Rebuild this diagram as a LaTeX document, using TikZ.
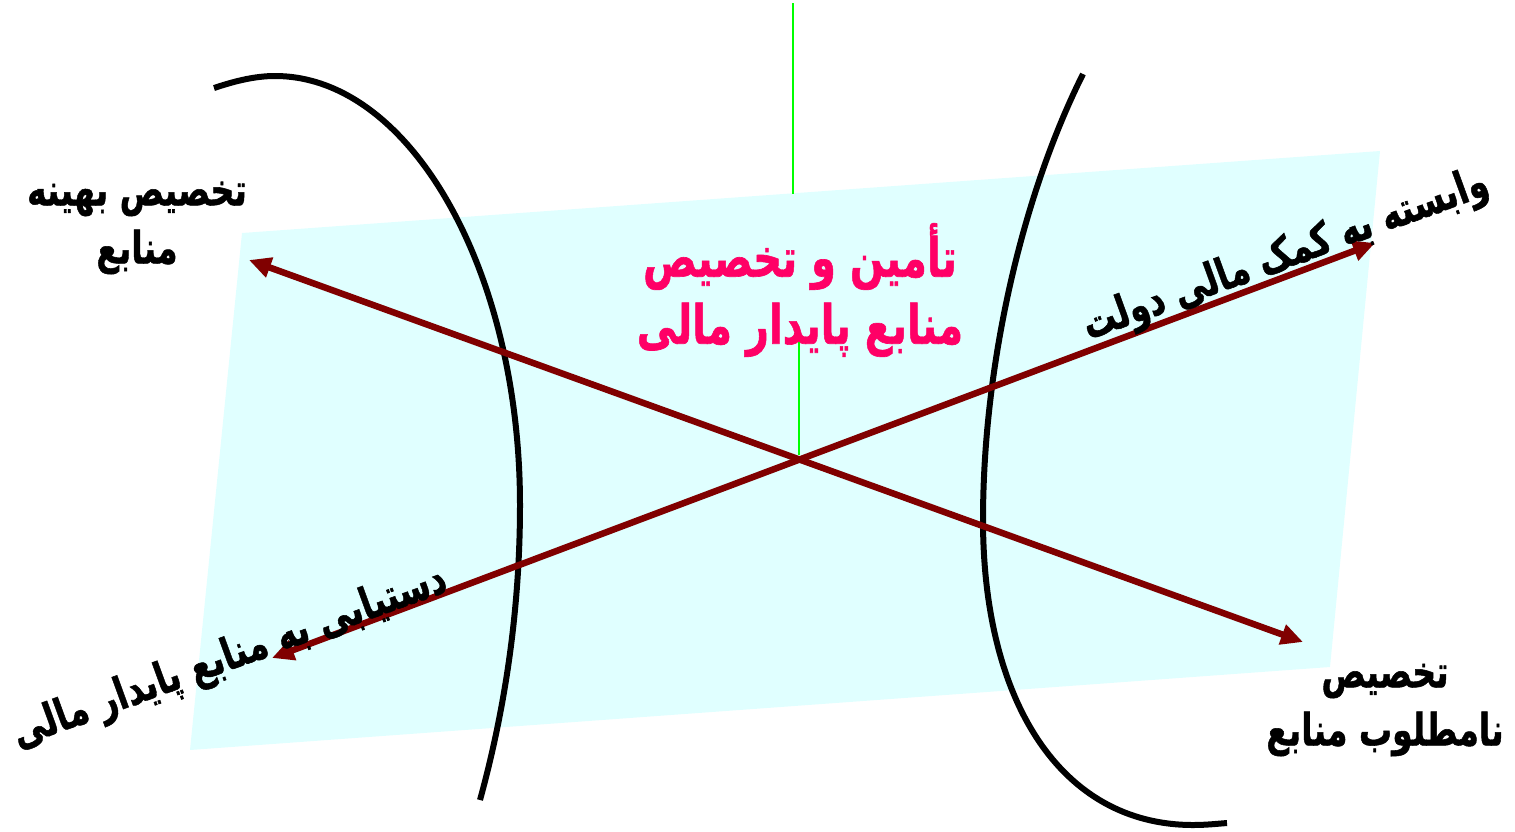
\documentclass[tikz,border=0pt]{standalone}
\usepackage{graphicx}
\usepackage{fontspec}
\usetikzlibrary{arrows.meta}
\TeXXeTstate=1
\newfontfamily\arabicfont[Script=Arabic, BoldFeatures={FakeBold=1.2}]{DejaVu Sans}
\newcommand{\rtl}[1]{\scalebox{1}[1.35]{\beginR #1\endR}}
\definecolor{panel}{HTML}{E0FFFF}
\definecolor{darrow}{HTML}{800000}
\definecolor{pinktext}{HTML}{FF0066}
\definecolor{gline}{HTML}{00FF00}
\tikzset{
  label/.style={font=\arabicfont\bfseries\fontsize{33}{58}\selectfont, text=black, align=center, inner sep=0pt},
  title/.style={font=\arabicfont\bfseries\fontsize{40}{67}\selectfont, text=pinktext, align=center, inner sep=0pt},
  dblarrow/.style={draw=darrow, line width=6.5pt, {Triangle[length=22pt,width=20pt]}-{Triangle[length=22pt,width=20pt]}},
  arcline/.style={draw=black, line width=6pt},
  greenline/.style={draw=gline, line width=2.5pt}
}
\begin{document}
\begin{tikzpicture}[x=1pt,y=-1pt]
\useasboundingbox (0,0) rectangle (1515,831);
% panel
\fill[panel] (242,233) -- (1380,151) -- (1330,667) -- (190,750) -- cycle;
% green line
\coordinate (g1) at (793,3);
\coordinate (g2) at (793,194);
\coordinate (g3) at (799,328);
\coordinate (g4) at (799,455);
\draw[greenline] (g1) -- (g2);
\draw[greenline] (g3) -- (g4);
% curves
\draw[arcline] (214,88) .. controls (235,81) and (255,76) .. (275,76) .. controls (410,76) and (520,270) .. (520,505) .. controls (520,620) and (502,720) .. (480,800);
\draw[arcline] (1083,74) .. controls (1020,200) and (983,370) .. (983,520) .. controls (983,700) and (1060,825) .. (1193,825) .. controls (1205,825) and (1215,824) .. (1227,823);
% arrows
\coordinate (a1) at (249,260);
\coordinate (a2) at (1303,642);
\coordinate (b1) at (272,658);
\coordinate (b2) at (1375,243);
\draw[dblarrow] (a1) -- (a2);
\draw[dblarrow] (b1) -- (b2);
% texts
\node[label] (tl) at (137,228) {\rtl{تخصیص بهینه}\\\rtl{منابع}};
\node[label] (br) at (1385,710) {\rtl{تخصیص}\\\rtl{نامطلوب منابع}};
\node[title] (ct) at (800,290) {\rtl{تأمین و تخصیص}\\\rtl{منابع پایدار مالی}};
\node[label, rotate=20] (ur) at (1286,256) {\rtl{وابسته به کمک مالی دولت}};
\node[label, rotate=20] (ll) at (230,658) {\rtl{دستیابی به منابع پایدار مالی}};
\end{tikzpicture}
\end{document}
